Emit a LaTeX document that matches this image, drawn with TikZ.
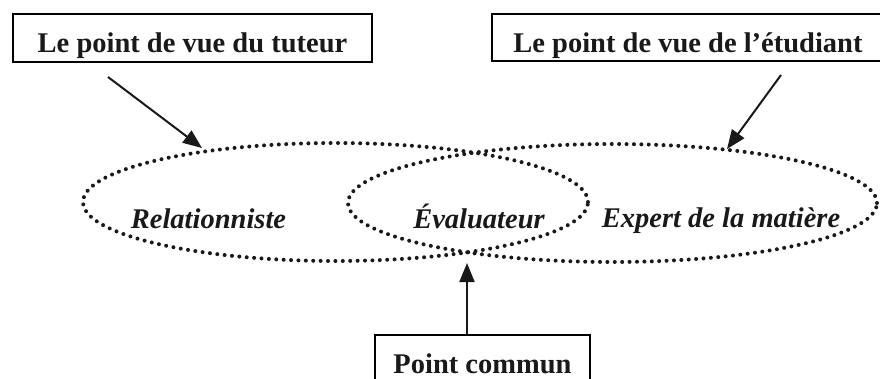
\documentclass[tikz,border=0pt]{standalone}
\usepackage{fontspec}
\setmainfont{Liberation Serif}
\usetikzlibrary{arrows.meta}
\tikzset{
  titlebox/.style={draw=black, line width=2pt, inner sep=0pt, anchor=base,
    font=\fontsize{28.5}{34}\selectfont\bfseries, text=black!90},
  dotline/.style={draw=black!90, line width=4pt, line cap=round, dash pattern=on 0pt off 7.4pt},
  label/.style={inner sep=0pt, anchor=base, font=\fontsize{28.5}{34}\selectfont\bfseries\itshape, text=black!90},
  pointer/.style={draw=black!90, line width=2pt, -{Triangle[length=19pt,width=15pt]}}
}
\begin{document}
\begin{tikzpicture}[x=1pt,y=-1pt]
\useasboundingbox (0,0) rectangle (880,379);
% boxes
\node[titlebox, minimum width=359pt, text height=39pt, text depth=9pt] (tuteur) at (192.5,53) {Le point de vue du tuteur};
\node[titlebox, minimum width=392pt, text height=39pt, text depth=8pt] (etudiant) at (688,53) {Le point de vue de l'étudiant};
\node[titlebox, minimum width=215pt, text height=38pt, text depth=30pt] (commun) at (482.5,373) {Point commun};
% ellipses
\draw[dotline] (335.5,202) ellipse [x radius=252.5pt, y radius=59pt];
\draw[dotline] (612.5,203) ellipse [x radius=264.5pt, y radius=59pt];
% labels
\node[label] (rel) at (208.5,229) {Relationniste};
\node[label] (eva) at (479,229) {Évaluateur};
\node[label] (exp) at (721,228) {Expert de la matière};
% arrow endpoints
\coordinate (a1s) at (108,77);
\coordinate (a1e) at (202,148);
\coordinate (a2s) at (781,75);
\coordinate (a2e) at (727,149);
\coordinate (a3e) at (467,263);
\draw[pointer] (a1s) -- (a1e);
\draw[pointer] (a2s) -- (a2e);
\draw[pointer] (a3e |- commun.north) -- (a3e);
\end{tikzpicture}
\end{document}
